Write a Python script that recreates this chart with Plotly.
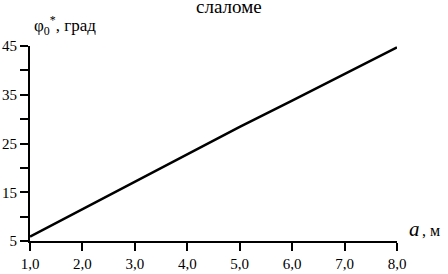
import plotly.graph_objects as go

# data
a_vals = [1.0, 2.0, 3.0, 4.0, 4.4, 5.0, 6.0, 7.0, 8.0]
phi_vals = [5.9, 11.5, 17.2, 22.8, 25.1, 28.4, 33.8, 39.3, 44.7]
x_ticks = [1, 2, 3, 4, 5, 6, 7, 8]
x_tick_labels = ["1,0", "2,0", "3,0", "4,0", "5,0", "6,0", "7,0", "8,0"]
y_ticks = [5, 15, 25, 35, 45]
y_tick_labels = ["5", "15", "25", "35", "45"]

W, H = 448, 274
L, R, T, B = 30, 51, 46, 33
pw, ph = W - L - R, H - T - B

def px(x):
    return (x - L) / pw

def py(y):
    return (H - B - y) / ph

FONT = "Liberation Serif"

fig = go.Figure()
fig.add_trace(go.Scatter(x=a_vals, y=phi_vals, mode="lines",
                         line=dict(color="black", width=2.5), showlegend=False,
                         hoverinfo="skip"))

fig.update_layout(
    width=W, height=H,
    margin=dict(l=L, r=R, t=T, b=B, pad=0, autoexpand=False),
    paper_bgcolor="white", plot_bgcolor="white",
    font=dict(family=FONT, size=15, color="black"),
    xaxis=dict(range=[1, 8], tickvals=x_ticks, ticktext=x_tick_labels,
               automargin=False,
               showgrid=False, zeroline=False, showline=True, linecolor="black",
               linewidth=2, ticks="outside", ticklen=8, tickwidth=1.5,
               tickcolor="black", tickfont=dict(family=FONT, size=15)),
    yaxis=dict(range=[5, 45], tickvals=y_ticks, ticktext=y_tick_labels,
               automargin=False,
               showgrid=False, zeroline=False, showline=True, linecolor="black",
               linewidth=2, ticks="outside", ticklen=8, tickwidth=1.5,
               tickcolor="black", tickfont=dict(family=FONT, size=15),
               minor=dict(tickvals=[10, 20, 30, 40], ticks="outside", ticklen=8,
                          tickwidth=1.5, tickcolor="black")),
)

annots = [
    dict(text="слаломе", x=px(229), y=py(-6), xanchor="center", yanchor="top",
         font=dict(family=FONT, size=19)),
    dict(text="φ<sub>0</sub><sup>*</sup>, град", x=px(32), y=py(26), xanchor="left",
         yanchor="middle", font=dict(family=FONT, size=17)),
    dict(text="<i>a</i>", x=px(407), y=py(229), xanchor="left", yanchor="middle",
         font=dict(family=FONT, size=21)),
    dict(text=", м", x=px(420), y=py(230), xanchor="left", yanchor="middle",
         font=dict(family=FONT, size=16)),
]
for a in annots:
    fig.add_annotation(xref="paper", yref="paper", showarrow=False, **a)

fig.write_html("out.html", config={"displayModeBar": False},
               post_script="document.body.style.margin='0';document.body.style.padding='0';")
